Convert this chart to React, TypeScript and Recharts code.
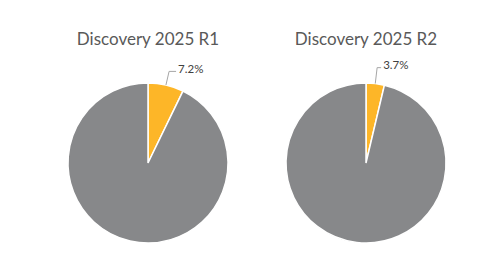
import { PieChart, Pie, Cell } from 'recharts';

const titles = ['Discovery 2025 R1', 'Discovery 2025 R2'];
const sliceNames = ['Yes', 'No'];
const r1Values = [7.2, 92.8];
const r2Values = [3.7, 96.3];

const COLORS = ['#FDB628', '#87888A'];
const FONT = 'Lato, "Open Sans", sans-serif';

const R1 = r1Values.map((value, i) => ({ name: sliceNames[i], value }));
const R2 = r2Values.map((value, i) => ({ name: sliceNames[i], value }));

const RAD = Math.PI / 180;

// leader line + percent text, only for the small slice
function makeLabel(lift: number, run: number) {
  return (props: any) => {
    const { cx, cy, midAngle, outerRadius, index, value } = props;
    if (index !== 0) return null;
    const x0 = cx + outerRadius * Math.cos(-midAngle * RAD);
    const y0 = cy + outerRadius * Math.sin(-midAngle * RAD);
    const r1 = outerRadius + lift;
    const x1 = cx + r1 * Math.cos(-midAngle * RAD);
    const y1 = cy + r1 * Math.sin(-midAngle * RAD);
    const x2 = x1 + run;
    return (
      <g>
        <polyline
          points={`${x0},${y0} ${x1},${y1} ${x2},${y1}`}
          fill="none"
          stroke="#A6A6A6"
          strokeWidth={1}
        />
        <text x={x2 + 2} y={y1 + 1.5} fill="#404040" fontSize={11.5} fontFamily={FONT}>
          {`${value.toFixed(1)}%`}
        </text>
      </g>
    );
  };
}

export default function App() {
  const centers = [148, 366];
  return (
    <div style={{ position: 'absolute', left: 0, top: 0, width: 502, height: 263, background: '#fff' }}>
      {titles.map((t, i) => (
        <div
          key={t}
          style={{
            position: 'absolute',
            left: centers[i] - 100,
            width: 200,
            top: 29,
            textAlign: 'center',
            fontFamily: FONT,
            fontSize: 17,
            color: '#595959',
            lineHeight: '20px',
          }}
        >
          {t}
        </div>
      ))}
      <div style={{ position: 'absolute', left: 0, top: 0 }}>
        <PieChart width={502} height={263} margin={{ top: 0, right: 0, bottom: 0, left: 0 }}>
          <Pie
            data={R1}
            dataKey="value"
            cx={148}
            cy={163}
            outerRadius={80}
            startAngle={90}
            endAngle={-270}
            stroke="#fff"
            strokeWidth={1.5}
            labelLine={false}
            label={makeLabel(14, 7)}
            isAnimationActive={false}
          >
            {R1.map((_, i) => (
              <Cell key={`r1-${i}`} fill={COLORS[i]} />
            ))}
          </Pie>
          <Pie
            data={R2}
            dataKey="value"
            cx={366}
            cy={163}
            outerRadius={80}
            startAngle={90}
            endAngle={-270}
            stroke="#fff"
            strokeWidth={1.5}
            labelLine={false}
            label={makeLabel(16, 4)}
            isAnimationActive={false}
          >
            {R2.map((_, i) => (
              <Cell key={`r2-${i}`} fill={COLORS[i]} />
            ))}
          </Pie>
        </PieChart>
      </div>
    </div>
  );
}
